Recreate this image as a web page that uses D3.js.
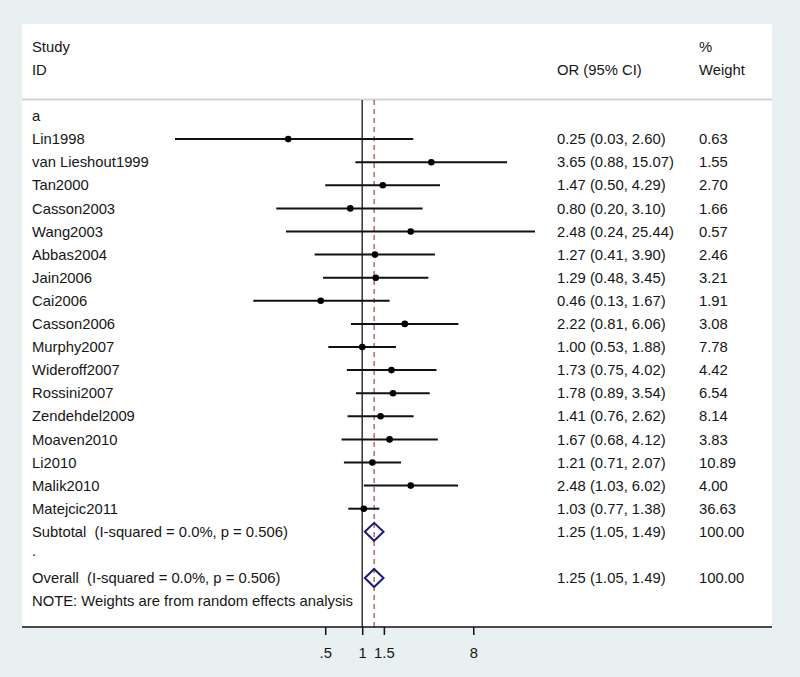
<!DOCTYPE html>
<html>
<head>
<meta charset="utf-8">
<script src="https://cdn.jsdelivr.net/npm/d3@7"></script>
<style>
  body { margin: 0; background: #e8f0f2; }
  text { font-family: Arial, "Liberation Sans", sans-serif; font-size: 14.8px; fill: #161616; white-space: pre; }
</style>
</head>
<body>
<script>
// study data
let studies = ["Lin1998", "van Lieshout1999", "Tan2000", "Casson2003", "Wang2003", "Abbas2004",
  "Jain2006", "Cai2006", "Casson2006", "Murphy2007", "Wideroff2007", "Rossini2007",
  "Zendehdel2009", "Moaven2010", "Li2010", "Malik2010", "Matejcic2011"];
let orValues = [0.25, 3.65, 1.47, 0.80, 2.48, 1.27, 1.29, 0.46, 2.22, 1.00, 1.73, 1.78, 1.41, 1.67, 1.21, 2.48, 1.03];
let lowerCI = [0.03, 0.88, 0.50, 0.20, 0.24, 0.41, 0.48, 0.13, 0.81, 0.53, 0.75, 0.89, 0.76, 0.68, 0.71, 1.03, 0.77];
let upperCI = [2.60, 15.07, 4.29, 3.10, 25.44, 3.90, 3.45, 1.67, 6.06, 1.88, 4.02, 3.54, 2.62, 4.12, 2.07, 6.02, 1.38];
let weights = [0.63, 1.55, 2.70, 1.66, 0.57, 2.46, 3.21, 1.91, 3.08, 7.78, 4.42, 6.54, 8.14, 3.83, 10.89, 4.00, 36.63];

// pooled estimates
let pooledLabels = ["Subtotal  (I-squared = 0.0%, p = 0.506)", "Overall  (I-squared = 0.0%, p = 0.506)"];
let pooledOR = [1.25, 1.25];
let pooledLower = [1.05, 1.05];
let pooledUpper = [1.49, 1.49];
let pooledWeight = [100.00, 100.00];
let pooledRows = [18, 20];

let xTicks = [0.5, 1, 1.5, 8];

let width = 800, height = 677;
let panel = {left: 22, right: 772, top: 24, bottom: 627};
let rowTop = 116, rowStep = 23.1;
let colOR = 557, colW = 699, colLabel = 32;

let f2 = d3.format(".2f");
let ciText = function(o, l, u) { return f2(o) + " (" + f2(l) + ", " + f2(u) + ")"; };

let xScale = d3.scaleLog().domain([0.03, 25.44]).range([175, 535]);
let rowY = function(i) { return rowTop + rowStep * i; };

let svg = d3.select("body").append("svg")
  .attr("width", width)
  .attr("height", height);

// white plot panel
svg.append("rect")
  .attr("x", panel.left).attr("y", panel.top)
  .attr("width", panel.right - panel.left).attr("height", panel.bottom - panel.top)
  .attr("fill", "#ffffff");

// header
svg.append("text").attr("x", colLabel).attr("y", 47).attr("dy", "0.35em").text("Study");
svg.append("text").attr("x", colLabel).attr("y", 70).attr("dy", "0.35em").text("ID");
svg.append("text").attr("x", colOR).attr("y", 70).attr("dy", "0.35em").text("OR (95% CI)");
svg.append("text").attr("x", colW).attr("y", 47).attr("dy", "0.35em").text("%");
svg.append("text").attr("x", colW).attr("y", 70).attr("dy", "0.35em").text("Weight");

svg.append("line")
  .attr("x1", panel.left).attr("x2", panel.right)
  .attr("y1", 99.5).attr("y2", 99.5)
  .attr("stroke", "#d2d4d4").attr("stroke-width", 2);

// no-effect line at 1
svg.append("line")
  .attr("x1", xScale(1)).attr("x2", xScale(1))
  .attr("y1", 100).attr("y2", panel.bottom)
  .attr("stroke", "#333333").attr("stroke-width", 1.5);

// dashed line at the overall estimate
svg.append("line")
  .attr("x1", xScale(pooledOR[1])).attr("x2", xScale(pooledOR[1]))
  .attr("y1", 100).attr("y2", panel.bottom)
  .attr("stroke", "#a8403c").attr("stroke-width", 1.2)
  .attr("stroke-dasharray", "5,4");

// group label
svg.append("text").attr("x", colLabel).attr("y", rowY(0)).attr("dy", "0.35em").text("a");

let data = studies.map(function(s, i) {
  return {name: s, or: orValues[i], lo: lowerCI[i], hi: upperCI[i], w: weights[i], row: i + 1};
});

let rows = svg.selectAll("g.study")
    .data(data)
  .enter().append("g")
    .attr("class", "study");

rows.append("line")
  .attr("x1", function(d) { return xScale(d.lo); })
  .attr("x2", function(d) { return xScale(d.hi); })
  .attr("y1", function(d) { return rowY(d.row); })
  .attr("y2", function(d) { return rowY(d.row); })
  .attr("stroke", "#111").attr("stroke-width", 2);

rows.append("circle")
  .attr("cx", function(d) { return xScale(d.or); })
  .attr("cy", function(d) { return rowY(d.row); })
  .attr("r", 3.3)
  .attr("fill", "#000");

rows.append("text")
  .attr("x", colLabel).attr("y", function(d) { return rowY(d.row); }).attr("dy", "0.35em")
  .text(function(d) { return d.name; });

rows.append("text")
  .attr("x", colOR).attr("y", function(d) { return rowY(d.row); }).attr("dy", "0.35em")
  .text(function(d) { return ciText(d.or, d.lo, d.hi); });

rows.append("text")
  .attr("x", colW).attr("y", function(d) { return rowY(d.row); }).attr("dy", "0.35em")
  .text(function(d) { return f2(d.w); });

// pooled diamonds
pooledLabels.forEach(function(lab, k) {
  let y = rowY(pooledRows[k]);
  let h = 9;
  svg.append("path")
    .attr("d", "M" + xScale(pooledLower[k]) + "," + y +
      "L" + xScale(pooledOR[k]) + "," + (y - h) +
      "L" + xScale(pooledUpper[k]) + "," + y +
      "L" + xScale(pooledOR[k]) + "," + (y + h) + "Z")
    .attr("fill", "none").attr("stroke", "#1c1c78").attr("stroke-width", 2);
  svg.append("text").attr("x", colLabel).attr("y", y).attr("dy", "0.35em").text(lab);
  svg.append("text").attr("x", colOR).attr("y", y).attr("dy", "0.35em")
    .text(ciText(pooledOR[k], pooledLower[k], pooledUpper[k]));
  svg.append("text").attr("x", colW).attr("y", y).attr("dy", "0.35em").text(f2(pooledWeight[k]));
});

svg.append("text").attr("x", colLabel).attr("y", rowY(19) - 4).attr("dy", "0.35em").text(".");

svg.append("text").attr("x", colLabel).attr("y", rowY(21)).attr("dy", "0.35em")
  .text("NOTE: Weights are from random effects analysis");

// x axis
let axis = svg.append("g")
  .attr("transform", "translate(0," + panel.bottom + ")")
  .call(d3.axisBottom(xScale)
    .tickValues(xTicks)
    .tickSize(8)
    .tickPadding(12)
    .tickFormat(function(d) { return d === 0.5 ? ".5" : String(d); }));
axis.select(".domain").remove();
axis.selectAll(".tick line").attr("stroke", "#111").attr("stroke-width", 1.5);
axis.selectAll(".tick text").style("font-size", "14.8px").attr("fill", "#161616")
  .style("font-family", "Arial, 'Liberation Sans', sans-serif");
svg.append("line")
  .attr("x1", panel.left).attr("x2", panel.right)
  .attr("y1", panel.bottom).attr("y2", panel.bottom)
  .attr("stroke", "#111").attr("stroke-width", 1.5);
</script>
</body>
</html>
